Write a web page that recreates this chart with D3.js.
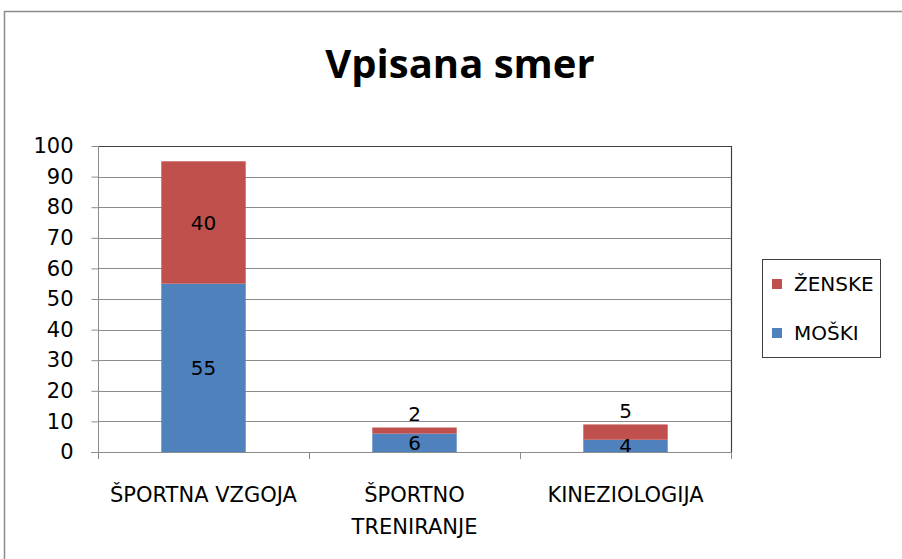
<!DOCTYPE html>
<html>
<head>
<meta charset="utf-8">
<script src="https://cdn.jsdelivr.net/npm/d3@7"></script>
<style>
  body { margin: 0; background: #fff; }
  svg { display: block; font-family: "DejaVu Sans", sans-serif; }
</style>
</head>
<body>
<svg id="chart" width="902" height="559"></svg>
<script>
var categories = ["ŠPORTNA VZGOJA", "ŠPORTNO TRENIRANJE", "KINEZIOLOGIJA"];
var categoryLines = [["ŠPORTNA VZGOJA"], ["ŠPORTNO", "TRENIRANJE"], ["KINEZIOLOGIJA"]];
var moski = [55, 6, 4];
var zenske = [40, 2, 5];
var seriesNames = ["MOŠKI", "ŽENSKE"];
var colors = ["#4F81BD", "#C0504D"];
var yTicks = [0, 10, 20, 30, 40, 50, 60, 70, 80, 90, 100];

var svg = d3.select("#chart");

// chart frame
svg.append("rect")
    .attr("x", 4.5).attr("y", 11.5)
    .attr("width", 960).attr("height", 600)
    .attr("fill", "#fff")
    .attr("stroke", "#8c8c8c").attr("stroke-width", 1.5);

svg.append("text")
    .attr("x", 460).attr("y", 78)
    .attr("text-anchor", "middle")
    .style("font-family", "'Open Sans', sans-serif")
    .style("font-size", "40px").style("font-weight", "bold")
    .text("Vpisana smer");

var plotLeft = 98, plotRight = 731, plotTop = 146, plotBottom = 452;

var x = d3.scaleBand().domain(categories).range([plotLeft, plotRight]).paddingInner(0.6).paddingOuter(0.3);
var xOuter = d3.scaleBand().domain(categories).range([plotLeft, plotRight]);
var y = d3.scaleLinear().domain([0, 100]).range([plotBottom, plotTop]);

// gridlines
svg.append("g").selectAll("line")
    .data(yTicks.filter(function (d) { return d > 0; }))
    .enter().append("line")
    .attr("x1", plotLeft).attr("x2", plotRight)
    .attr("y1", function (d) { return Math.round(y(d)) + 0.5; })
    .attr("y2", function (d) { return Math.round(y(d)) + 0.5; })
    .attr("stroke", "#8c8c8c").attr("stroke-width", 1);

// plot border top/right
svg.append("path")
    .attr("d", "M" + plotLeft + "," + (plotTop + 0.5) + "H" + (plotRight + 0.5) + "V" + plotBottom)
    .attr("fill", "none").attr("stroke", "#404040").attr("stroke-width", 1.2);

// stacked data
var table = categories.map(function (c, i) {
    return { cat: c, "MOŠKI": moski[i], "ŽENSKE": zenske[i] };
});
var stack = d3.stack().keys(seriesNames)(table);

var layers = svg.append("g").selectAll("g")
    .data(stack).enter().append("g")
    .attr("fill", function (d, i) { return colors[i]; });

layers.selectAll("rect")
    .data(function (d) { return d; })
    .enter().append("rect")
    .attr("x", function (d) { return x(d.data.cat); })
    .attr("width", x.bandwidth())
    .attr("y", function (d) { return y(d[1]); })
    .attr("height", function (d) { return y(d[0]) - y(d[1]); });

// value labels
stack.forEach(function (layer, li) {
    svg.append("g").selectAll("text")
        .data(layer).enter().append("text")
        .attr("x", function (d) { return x(d.data.cat) + x.bandwidth() / 2; })
        .attr("y", function (d) {
            var mid = (y(d[0]) + y(d[1])) / 2;
            var h = y(d[0]) - y(d[1]);
            if (li === 1 && h < 20) return y(d[1]) - 14; // small top segment: above the bar
            return mid;
        })
        .attr("dy", "0.36em")
        .attr("text-anchor", "middle")
        .style("font-size", "20px").attr("fill", "#000")
        .text(function (d) { return d[1] - d[0]; });
});

// y axis
var yAxis = svg.append("g")
    .attr("transform", "translate(" + (plotLeft + 0.5) + ",0)")
    .call(d3.axisLeft(y).tickValues(yTicks).tickSize(7).tickPadding(18));
yAxis.select(".domain").attr("stroke", "#8c8c8c").attr("d", "M0," + plotTop + "V" + (plotBottom + 7));
yAxis.selectAll(".tick line").attr("stroke", "#8c8c8c");
yAxis.selectAll(".tick text")
    .style("font-size", "21px").style("font-family", "'DejaVu Sans', sans-serif")
    .attr("fill", "#000");

// x axis
svg.append("line")
    .attr("x1", plotLeft - 7).attr("x2", plotRight)
    .attr("y1", plotBottom + 0.5).attr("y2", plotBottom + 0.5)
    .attr("stroke", "#8c8c8c");
var tickXs = categories.map(function (c) { return xOuter(c); }).concat([plotRight]);
svg.append("g").selectAll("line")
    .data(tickXs).enter().append("line")
    .attr("x1", function (d) { return Math.round(d) + 0.5; })
    .attr("x2", function (d) { return Math.round(d) + 0.5; })
    .attr("y1", plotBottom).attr("y2", plotBottom + 7)
    .attr("stroke", "#8c8c8c");

svg.append("g").selectAll("text")
    .data(categories).enter().append("text")
    .attr("x", function (c) { return xOuter(c) + xOuter.bandwidth() / 2; })
    .attr("y", 502)
    .attr("text-anchor", "middle")
    .style("font-size", "21px").attr("fill", "#000")
    .each(function (c, i) {
        var t = d3.select(this);
        categoryLines[i].forEach(function (line, k) {
            t.append("tspan")
                .attr("x", xOuter(c) + xOuter.bandwidth() / 2)
                .attr("dy", k === 0 ? 0 : 32)
                .text(line);
        });
    });

// legend
var legend = svg.append("g");
legend.append("rect")
    .attr("x", 762.5).attr("y", 259.5)
    .attr("width", 118).attr("height", 98)
    .attr("fill", "#fff").attr("stroke", "#404040");
var legendItems = [{ name: "ŽENSKE", color: colors[1], cy: 284 }, { name: "MOŠKI", color: colors[0], cy: 333 }];
legendItems.forEach(function (it) {
    legend.append("rect")
        .attr("x", 772).attr("y", it.cy - 5)
        .attr("width", 10).attr("height", 10)
        .attr("fill", it.color);
    legend.append("text")
        .attr("x", 794).attr("y", it.cy)
        .attr("dy", "0.36em")
        .style("font-size", "20px").attr("fill", "#000")
        .text(it.name);
});
</script>
</body>
</html>
